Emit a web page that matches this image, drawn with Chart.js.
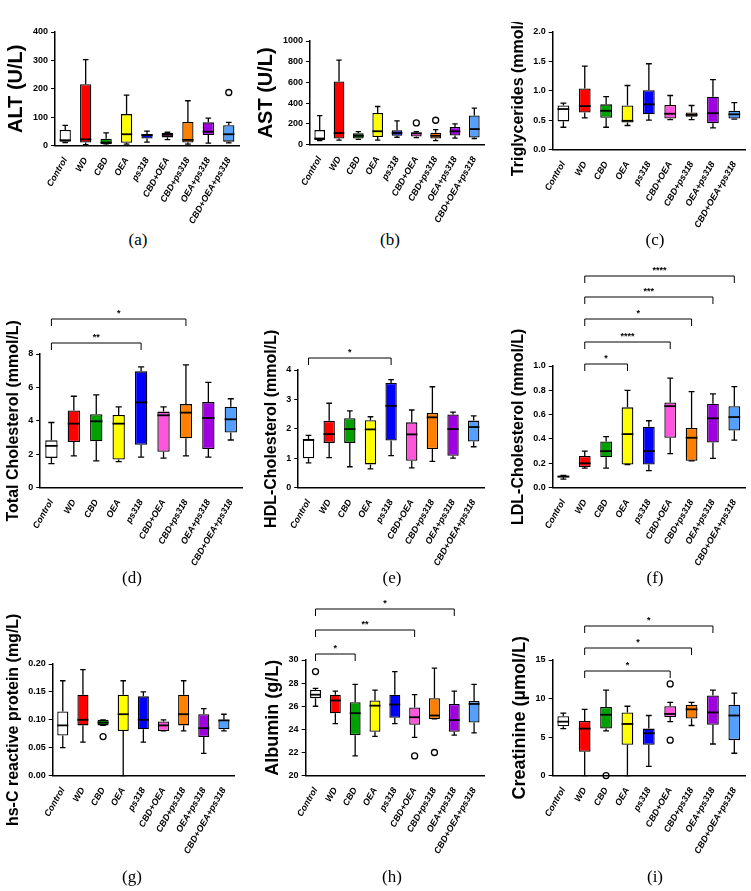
<!DOCTYPE html>
<html lang="en">
<head>
<meta charset="UTF-8">
<title>Serum biochemistry</title>
<script src="https://cdn.jsdelivr.net/npm/chart.js"></script>
<style>
  body { margin: 0; background: #fff; width: 751px; height: 891px; position: relative; overflow: hidden; font-family: Arial, sans-serif; }
  .panel { position: absolute; }
  .cap { position: absolute; font-family: "Liberation Serif", "DejaVu Serif", serif; font-size: 17px; transform: translate(-50%, -50%); }
</style>
</head>
<body>
<script>
// groups
var groups = ['Control', 'WD', 'CBD', 'OEA', 'ps318', 'CBD+OEA', 'CBD+ps318', 'OEA+ps318', 'CBD+OEA+ps318'];
var groupColors = ['#ffffff', '#ff0000', '#00a000', '#ffff00', '#0000ff', '#ff55dd', '#ff8000', '#a000e0', '#55a0ff'];

// each box: [min, q1, median, q3, max]
var altBoxes = [[11,14,19,55,71],[3,11,22,216,303],[2,5,11,24,45],[5,10,40,111,178],[12,25,37,41,51],[21,29,38,45,47],[5,11,20,83,158],[9,37,49,82,97],[10,14,40,72,82]];
var altOut = [[], [], [], [], [], [], [], [], [187]];
var astBoxes = [[38,44,59,140,279],[44,59,112,609,815],[50,59,85,109,126],[44,74,129,306,368],[71,85,112,138,229],[68,79,109,118,126],[38,59,85,115,144],[62,88,129,171,200],[59,68,150,282,353]];
var astOut = [[], [], [], [], [], [209], [235], [], []];
var tgBoxes = [[0.38,0.48,0.69,0.75,0.79],[0.54,0.63,0.74,1.04,1.42],[0.38,0.54,0.66,0.77,0.90],[0.41,0.46,0.49,0.75,1.09],[0.50,0.60,0.77,1.01,1.46],[0.51,0.53,0.61,0.76,0.92],[0.51,0.56,0.59,0.63,0.75],[0.37,0.45,0.62,0.90,1.19],[0.52,0.53,0.60,0.66,0.80]];
var tcBoxes = [[1.44,1.78,2.5,2.83,3.9],[1.9,2.73,3.83,4.62,5.47],[1.6,2.77,3.97,4.4,5.55],[1.56,1.68,3.83,4.35,4.84],[1.82,2.57,5.1,6.96,7.23],[1.76,2.15,4.33,4.55,4.84],[1.9,2.96,4.49,5.0,7.35],[1.82,2.31,4.17,5.12,6.3],[2.85,3.3,4.09,4.84,5.32]];
var hdlBoxes = [[0.84,1.0,1.62,1.65,1.78],[1.02,1.52,1.82,2.27,2.87],[0.71,1.52,1.99,2.36,2.61],[0.64,0.79,1.98,2.29,2.41],[1.09,1.6,2.78,3.56,3.67],[0.67,0.91,1.81,2.22,2.64],[0.89,1.31,2.39,2.54,3.43],[1.0,1.08,1.99,2.49,2.57],[1.39,1.57,2.06,2.28,2.44]];
var ldlBoxes = [[0.07,0.085,0.09,0.10,0.10],[0.16,0.17,0.20,0.26,0.30],[0.16,0.25,0.30,0.38,0.42],[0.19,0.19,0.44,0.66,0.80],[0.14,0.19,0.30,0.50,0.55],[0.28,0.41,0.67,0.70,0.90],[0.22,0.22,0.41,0.49,0.79],[0.24,0.37,0.57,0.69,0.77],[0.39,0.47,0.58,0.67,0.83]];
var crpBoxes = [[0.05,0.072,0.09,0.115,0.17],[0.06,0.09,0.10,0.145,0.19],[0.09,0.09,0.095,0.10,0.10],[0.0,0.08,0.11,0.145,0.17],[0.06,0.083,0.10,0.142,0.15],[0.08,0.08,0.09,0.097,0.10],[0.08,0.09,0.11,0.145,0.17],[0.04,0.069,0.085,0.11,0.12],[0.08,0.083,0.099,0.10,0.11]];
var crpOut = [[], [], [0.07], [], [], [], [], [], []];
var albBoxes = [[26.0,26.7,27.0,27.4,27.55],[24.5,25.4,26.5,27.0,27.3],[21.7,23.5,25.4,26.35,27.9],[23.4,23.8,26.05,26.5,27.4],[24.5,25.0,26.15,27.0,29.0],[23.3,24.4,25.05,25.9,27.0],[24.9,24.9,25.2,26.7,29.3],[23.5,23.8,24.8,26.2,27.3],[23.7,24.6,26.2,26.45,27.9]];
var albOut = [[29.0], [], [], [], [], [21.7], [22.0], [], []];
var creBoxes = [[6.1,6.4,7.0,7.7,8.1],[0,3.1,6.1,7.1,8.6],[5.8,6.1,7.9,8.9,11.1],[0,4.0,6.7,8.2,9.0],[1.2,4.0,5.5,6.1,7.8],[7.0,7.6,8.0,9.0,9.5],[6.5,7.4,8.6,9.2,9.5],[4.1,6.6,8.2,10.4,11.1],[2.9,4.6,7.8,9.2,10.7]];
var creOut = [[], [], [0], [], [], [11.9, 4.6], [], [], []];

// significance brackets: [fromGroup, toGroup, stars]
var tcSig = [[0, 4, '**'], [0, 6, '*']];
var hdlSig = [[0, 4, '*']];
var ldlSig = [[1, 3, '*'], [1, 5, '****'], [1, 6, '*'], [1, 7, '***'], [1, 8, '****']];
var albSig = [[0, 2, '*'], [0, 5, '**'], [0, 7, '*']];
var creSig = [[1, 5, '*'], [1, 6, '*'], [1, 7, '*']];

var boxPlugin = {
  id: 'boxes',
  afterDatasetsDraw: function (chart) {
    var p = chart.options.plugins.boxes;
    var ctx = chart.ctx, y = chart.scales.y, meta = chart.getDatasetMeta(0);
    ctx.save();
    ctx.strokeStyle = '#000';
    ctx.lineWidth = 1.3;
    meta.data.forEach(function (bar, i) {
      var b = p.boxes[i], x = bar.x, half = bar.width / 2, cap = bar.width / 4;
      ctx.beginPath();
      ctx.moveTo(x, y.getPixelForValue(b[3])); ctx.lineTo(x, y.getPixelForValue(b[4]));
      ctx.moveTo(x - cap, y.getPixelForValue(b[4])); ctx.lineTo(x + cap, y.getPixelForValue(b[4]));
      ctx.moveTo(x, y.getPixelForValue(b[1])); ctx.lineTo(x, y.getPixelForValue(b[0]));
      ctx.moveTo(x - cap, y.getPixelForValue(b[0])); ctx.lineTo(x + cap, y.getPixelForValue(b[0]));
      ctx.stroke();
      ctx.beginPath();
      ctx.lineWidth = 1.8;
      ctx.moveTo(x - half, y.getPixelForValue(b[2])); ctx.lineTo(x + half, y.getPixelForValue(b[2]));
      ctx.stroke();
      ctx.lineWidth = 1.3;
      (p.outliers[i] || []).forEach(function (v) {
        ctx.beginPath();
        ctx.arc(x, y.getPixelForValue(v), 3, 0, Math.PI * 2);
        ctx.stroke();
      });
    });
    // brackets
    var top = chart.chartArea.top;
    ctx.font = 'bold 9px Arial';
    ctx.textAlign = 'center';
    ctx.fillStyle = '#000';
    ctx.lineWidth = 1;
    (p.sig || []).forEach(function (s, k) {
      var x1 = meta.data[s[0]].x, x2 = meta.data[s[1]].x;
      var ly = top - p.sigOffsets[k];
      ctx.beginPath();
      ctx.moveTo(x1, ly + 7); ctx.lineTo(x1, ly); ctx.lineTo(x2, ly); ctx.lineTo(x2, ly + 7);
      ctx.stroke();
      ctx.fillText(s[2], (x1 + x2) / 2, ly - 3);
    });
    ctx.restore();
  }
};

function makePanel(opt) {
  var c = document.createElement('canvas');
  c.className = 'panel';
  c.width = opt.w; c.height = opt.h;
  c.style.left = opt.left + 'px';
  c.style.top = opt.top + 'px';
  c.style.width = opt.w + 'px';
  c.style.height = opt.h + 'px';
  document.body.appendChild(c);
  var cap = document.createElement('div');
  cap.className = 'cap';
  cap.textContent = opt.caption;
  cap.style.left = opt.capX + 'px';
  cap.style.top = opt.capY + 'px';
  document.body.appendChild(cap);

  new Chart(c, {
    type: 'bar',
    data: {
      labels: groups,
      datasets: [{
        data: opt.boxes.map(function (b) { return [b[1], b[3]]; }),
        backgroundColor: groupColors,
        borderColor: '#000',
        borderWidth: 1.3,
        borderSkipped: false,
        categoryPercentage: 1,
        barPercentage: 0.55
      }]
    },
    plugins: [boxPlugin],
    options: {
      responsive: false,
      animation: false,
      devicePixelRatio: 1,
      layout: { padding: { top: opt.padTop, right: 6, left: 2 } },
      plugins: {
        legend: { display: false },
        tooltip: { enabled: false },
        boxes: { boxes: opt.boxes, outliers: opt.outliers || [], sig: opt.sig || [], sigOffsets: opt.sigOffsets || [] }
      },
      scales: {
        x: {
          grid: { display: false },
          border: { color: '#000', width: 1.5 },
          ticks: { color: '#000', maxRotation: 60, minRotation: 60, autoSkip: false, padding: 2,
                   font: { family: 'Arial', size: 9, weight: 'bold', style: 'italic' } }
        },
        y: {
          min: opt.min, max: opt.max,
          grid: { drawOnChartArea: false, drawTicks: true, color: '#000', tickLength: 4 },
          border: { color: '#000', width: 1.5 },
          ticks: { color: '#000', stepSize: opt.step, font: { family: 'Arial', size: 9, weight: 'bold' },
                   callback: function (v) { return opt.dec ? Number(v).toFixed(opt.dec) : v; } },
          title: { display: true, text: opt.title, color: '#000', padding: 2,
                   font: { family: 'Arial', size: opt.titleSize || 16, weight: 'bold' } }
        }
      }
    }
  });
}

makePanel({ left: 0, top: 18, w: 245, h: 210, padTop: 14, boxes: altBoxes, outliers: altOut, min: 0, max: 400, step: 100, title: 'ALT (U/L)', titleSize: 20, caption: '(a)', capX: 138, capY: 240 });
makePanel({ left: 250, top: 27, w: 240, h: 200, padTop: 14, boxes: astBoxes, outliers: astOut, min: 0, max: 1000, step: 200, title: 'AST (U/L)', titleSize: 20, caption: '(b)', capX: 390, capY: 240 });
makePanel({ left: 505, top: 22, w: 246, h: 210, padTop: 10, boxes: tgBoxes, min: 0, max: 2, step: 0.5, dec: 1, title: 'Triglycerides (mmol/L)', caption: '(c)', capX: 655, capY: 240 });

makePanel({ left: 0, top: 270, w: 248, h: 300, padTop: 84, boxes: tcBoxes, sig: tcSig, sigOffsets: [11, 35], min: 0, max: 8, step: 2, title: 'Total Cholesterol (mmol/L)', caption: '(d)', capX: 132, capY: 578 });
makePanel({ left: 258, top: 270, w: 232, h: 300, padTop: 100, boxes: hdlBoxes, sig: hdlSig, sigOffsets: [12], min: 0, max: 4, step: 1, title: 'HDL-Cholesterol (mmol/L)', caption: '(e)', capX: 392, capY: 578 });
makePanel({ left: 505, top: 262, w: 246, h: 308, padTop: 104, boxes: ldlBoxes, sig: ldlSig, sigOffsets: [2, 24, 47, 69, 90], min: 0, max: 1, step: 0.2, dec: 1, title: 'LDL-Cholesterol (mmol/L)', caption: '(f)', capX: 655, capY: 578 });

makePanel({ left: 0, top: 598, w: 240, h: 260, padTop: 66, boxes: crpBoxes, outliers: crpOut, min: 0, max: 0.2, step: 0.05, dec: 2, title: 'hs-C reactive protein (mg/L)', caption: '(g)', capX: 132, capY: 877 });
makePanel({ left: 258, top: 598, w: 232, h: 260, padTop: 62, boxes: albBoxes, outliers: albOut, sig: albSig, sigOffsets: [6, 30, 51], min: 20, max: 30, step: 2, title: 'Albumin (g/L)', titleSize: 18, caption: '(h)', capX: 392, capY: 877 });
makePanel({ left: 505, top: 598, w: 246, h: 260, padTop: 62, boxes: creBoxes, outliers: creOut, sig: creSig, sigOffsets: [-11, 12, 34], min: 0, max: 15, step: 5, title: 'Creatinine (\u00b5mol/L)', titleSize: 18, caption: '(i)', capX: 655, capY: 877 });
</script>
</body>
</html>
